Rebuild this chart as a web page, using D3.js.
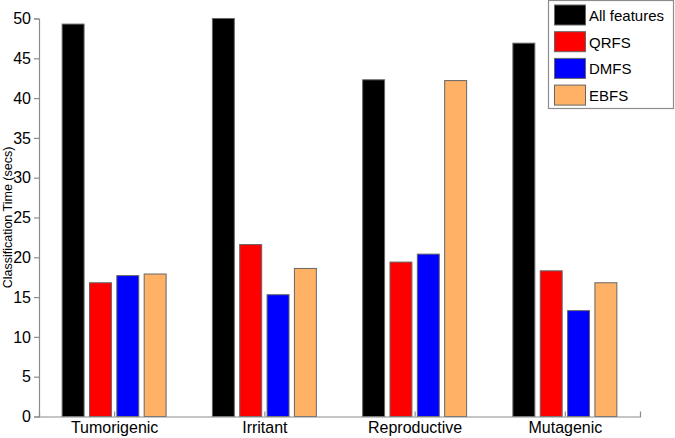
<!DOCTYPE html>
<html><head><meta charset="utf-8">
<script src="https://cdn.jsdelivr.net/npm/d3@7"></script>
<style>body{margin:0;background:#fff}svg{display:block;font-family:"Liberation Sans",Arial,sans-serif}</style>
</head><body><svg id="c" width="675" height="438"></svg>
<script>
const categories = ["Tumorigenic", "Irritant", "Reproductive", "Mutagenic"];
const seriesNames = ["All features", "QRFS", "DMFS", "EBFS"];
const seriesColors = ["#000000", "#ff0000", "#0000ff", "#ffb266"];
const allFeatures = [49.3, 50.0, 42.3, 46.9];
const qrfs = [16.8, 21.6, 19.4, 18.3];
const dmfs = [17.7, 15.3, 20.4, 13.3];
const ebfs = [17.9, 18.6, 42.2, 16.8];
const yTicks = [0, 5, 10, 15, 20, 25, 30, 35, 40, 45, 50];
const seriesValues = [allFeatures, qrfs, dmfs, ebfs];

const svg = d3.select("#c");
const L = 39, R = 640, T = 18.5, B = 416.5;
const x = d3.scaleLinear().domain([0.5, 4.5]).range([L, R]);
const y = d3.scaleLinear().domain([0, 50]).range([B, T]);
const barW = 0.146, pitch = 0.182;

// axes
const axisColor = "#8c8c8c";
const yAxis = svg.append("g").attr("transform", `translate(${L},0)`)
  .call(d3.axisLeft(y).tickValues(yTicks).tickSize(5).tickPadding(3));
yAxis.select(".domain").attr("stroke", axisColor).attr("stroke-width", 1.2);
yAxis.selectAll(".tick line").attr("stroke", axisColor).attr("stroke-width", 1.2);
yAxis.selectAll(".tick text").attr("font-size", 16).attr("fill", "#000")
  .attr("font-family", "Liberation Sans, Arial, sans-serif");

// bars
categories.forEach((c, ci) => {
  seriesValues.forEach((vals, si) => {
    const cx = (ci + 1) + (si - 1.5) * pitch;
    svg.append("rect")
      .attr("x", x(cx - barW / 2))
      .attr("width", x(cx + barW / 2) - x(cx - barW / 2))
      .attr("y", y(vals[ci]))
      .attr("height", y(0) - y(vals[ci]))
      .attr("fill", seriesColors[si])
      .attr("stroke", "#666").attr("stroke-width", 1);
  });
});

const xAxis = svg.append("g").attr("transform", `translate(0,${B})`)
  .call(d3.axisBottom(x).tickValues([1, 2, 3, 4]).tickFormat((d) => categories[d - 1]).tickSize(-5).tickPadding(5));
xAxis.select(".domain").attr("stroke", axisColor).attr("stroke-width", 1.2);
xAxis.selectAll(".tick line").attr("stroke", axisColor).attr("stroke-width", 1.2);
xAxis.selectAll(".tick text").attr("font-size", 16).attr("fill", "#000")
  .attr("font-family", "Liberation Sans, Arial, sans-serif");

// y label
svg.append("text").attr("transform", `translate(12,${(T + B) / 2}) rotate(-90)`)
  .attr("text-anchor", "middle").attr("font-size", 12.5).attr("fill", "#000")
  .text("Classification Time (secs)");

// legend
const lg = svg.append("g");
lg.append("rect").attr("x", 548.5).attr("y", 0.5).attr("width", 125).attr("height", 108)
  .attr("fill", "#fff").attr("stroke", axisColor).attr("stroke-width", 1.2);
seriesNames.forEach((n, i) => {
  const yy = 5 + i * 26.7;
  lg.append("rect").attr("x", 554.5).attr("y", yy).attr("width", 31).attr("height", 20)
    .attr("fill", seriesColors[i]).attr("stroke", "#666").attr("stroke-width", 1);
  lg.append("text").attr("x", 589).attr("y", yy + 16).attr("font-size", 15).attr("fill", "#000").text(n);
});
</script></body></html>
